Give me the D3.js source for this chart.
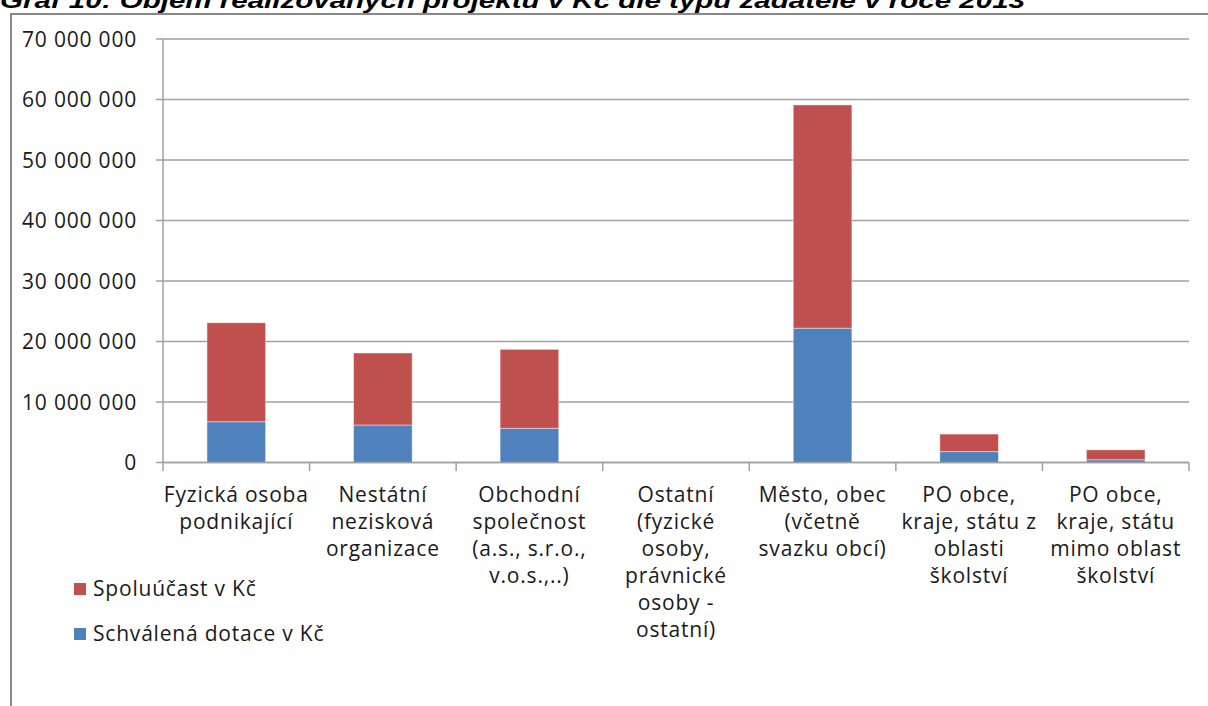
<!DOCTYPE html>
<html>
<head>
<meta charset="utf-8">
<script src="https://cdn.jsdelivr.net/npm/d3@7/dist/d3.min.js"></script>
<style>
  html, body { margin: 0; padding: 0; background: #fff; }
  svg { display: block; }
</style>
</head>
<body>
<svg id="chart" width="1208" height="706"></svg>
<script>
const title = "Graf 10: Objem realizovaných projektů v Kč dle typu žadatele v roce 2013";
const categories = [
  "Fyzická osoba podnikající",
  "Nestátní nezisková organizace",
  "Obchodní společnost (a.s., s.r.o., v.o.s.,..)",
  "Ostatní (fyzické osoby, právnické osoby - ostatní)",
  "Město, obec (včetně svazku obcí)",
  "PO obce, kraje, státu z oblasti školství",
  "PO obce, kraje, státu mimo oblast školství"
];
const categoryLines = [
  ["Fyzická osoba", "podnikající"],
  ["Nestátní", "nezisková", "organizace"],
  ["Obchodní", "společnost", "(a.s., s.r.o.,", "v.o.s.,..)"],
  ["Ostatní", "(fyzické", "osoby,", "právnické", "osoby -", "ostatní)"],
  ["Město, obec", "(včetně", "svazku obcí)"],
  ["PO obce,", "kraje, státu z", "oblasti", "školství"],
  ["PO obce,", "kraje, státu", "mimo oblast", "školství"]
];
const seriesNames = ["Schválená dotace v Kč", "Spoluúčast v Kč"];
const dotace = [6740000, 6200000, 5650000, 0, 22200000, 1800000, 460000];
const spoluucast = [16360000, 11900000, 13050000, 0, 36900000, 2900000, 1640000];
const yTicks = [0, 10000000, 20000000, 30000000, 40000000, 50000000, 60000000, 70000000];
const colors = { dotace: "#4F81BD", spoluucast: "#C0504D" };

const svg = d3.select("#chart");
const font = "'Open Sans', sans-serif";
const fs = 21;
const ls = 0.8;

// Outer border (clipped on right)
svg.append("path")
  .attr("d", "M11,706 L11,14 L1210,14")
  .attr("fill", "none").attr("stroke", "#888").attr("stroke-width", 2);

// Title (partially clipped at top)
svg.append("text")
  .attr("x", 0).attr("y", 8)
  .attr("font-family", "'Liberation Sans', Arial, sans-serif")
  .attr("font-weight", "bold").attr("font-style", "italic")
  .attr("font-size", 22)
  .attr("textLength", 1025).attr("lengthAdjust", "spacingAndGlyphs")
  .text(title);

const x = d3.scaleBand().domain(categories).range([163, 1189]).padding(0);
const y = d3.scaleLinear().domain([0, 70000000]).range([462.5, 39]);

// Gridlines
svg.append("g").selectAll("line").data(yTicks).join("line")
  .attr("x1", 156).attr("x2", 1189)
  .attr("y1", d => y(d)).attr("y2", d => y(d))
  .attr("stroke", "#a0a0a0").attr("stroke-width", 1.5);

// Y axis
const yAxis = d3.axisLeft(y).tickValues(yTicks).tickSize(0).tickPadding(0)
  .tickFormat(d => d3.format(",")(d).replace(/,/g, " "));
const gy = svg.append("g").attr("transform", "translate(137,0)").call(yAxis);
gy.select(".domain").remove();
gy.selectAll("text").attr("font-family", font).attr("font-size", fs)
  .attr("letter-spacing", ls).attr("fill", "#1a1a1a").attr("dy", "0.35em");

svg.append("line").attr("x1", 163).attr("x2", 163).attr("y1", 39).attr("y2", 463)
  .attr("stroke", "#a0a0a0").attr("stroke-width", 1.5);

// Bars
const stackData = categories.map((c, i) => ({ cat: c, dotace: dotace[i], spoluucast: spoluucast[i] }));
const stack = d3.stack().keys(["dotace", "spoluucast"])(stackData);
const bw = x.bandwidth() * 0.4;
svg.append("g").selectAll("g").data(stack).join("g")
  .attr("fill", d => colors[d.key])
  .selectAll("rect").data(d => d).join("rect")
  .attr("x", d => x(d.data.cat) + (x.bandwidth() - bw) / 2)
  .attr("width", bw)
  .attr("y", d => y(d[1]))
  .attr("height", d => Math.max(0, y(d[0]) - y(d[1])))
  .attr("stroke", "rgba(255,255,255,0.45)").attr("stroke-width", 1);

// X axis line + boundary ticks
svg.append("line").attr("x1", 163).attr("x2", 1189).attr("y1", 462.5).attr("y2", 462.5)
  .attr("stroke", "#a0a0a0").attr("stroke-width", 1.5);
const boundaries = categories.map(c => x(c)).concat([x.range()[1]]);
svg.append("g").selectAll("line").data(boundaries).join("line")
  .attr("x1", d => d).attr("x2", d => d).attr("y1", 462.5).attr("y2", 471)
  .attr("stroke", "#a0a0a0").attr("stroke-width", 1.5);

// Category labels
const lab = svg.append("g").selectAll("text").data(categories).join("text")
  .attr("font-family", font).attr("font-size", fs).attr("letter-spacing", ls)
  .attr("fill", "#1a1a1a").attr("text-anchor", "middle");
lab.each(function(c, i) {
  d3.select(this).selectAll("tspan").data(categoryLines[i]).join("tspan")
    .attr("x", x(c) + x.bandwidth() / 2)
    .attr("y", (d, j) => 502 + j * 27)
    .text(d => d);
});

// Legend
const legend = [
  { name: seriesNames[1], color: colors.spoluucast, y: 589 },
  { name: seriesNames[0], color: colors.dotace, y: 634 }
];
const lg = svg.append("g").selectAll("g").data(legend).join("g");
lg.append("rect").attr("x", 74).attr("y", d => d.y - 6).attr("width", 12).attr("height", 12)
  .attr("fill", d => d.color);
lg.append("text").attr("x", 93).attr("y", d => d.y).attr("dy", "0.35em")
  .attr("font-family", font).attr("font-size", fs).attr("letter-spacing", ls)
  .attr("fill", "#1a1a1a")
  .text(d => d.name);
</script>
</body>
</html>
